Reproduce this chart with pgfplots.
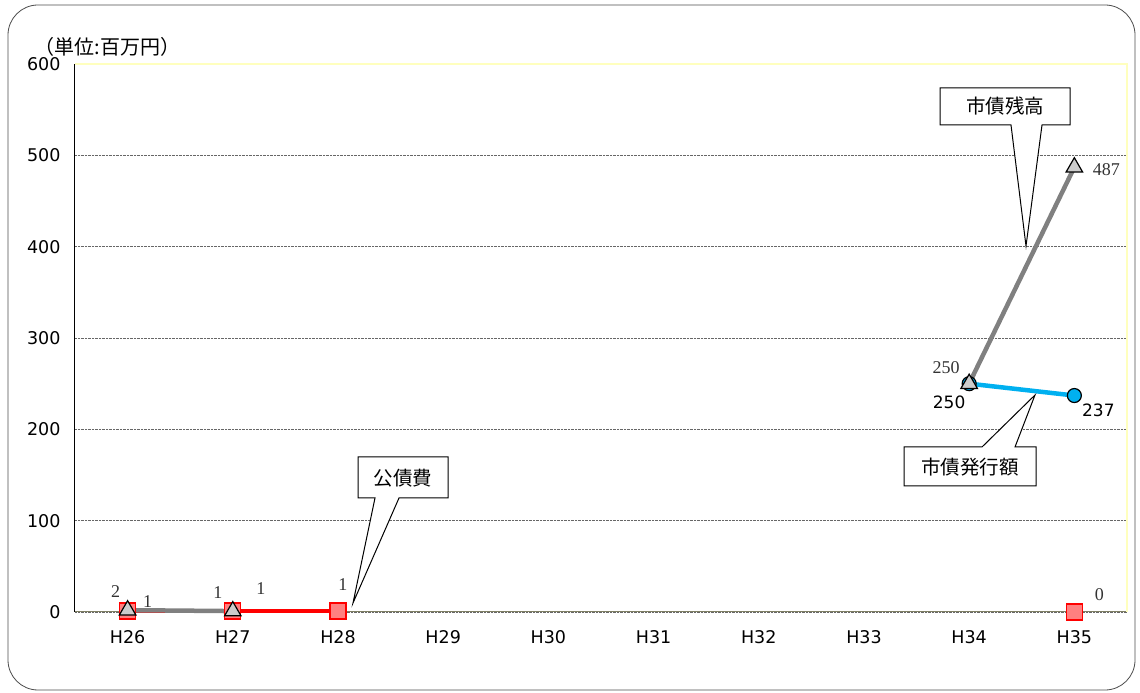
\documentclass[border=0pt]{standalone}
\usepackage{fontspec}
\setmainfont{Liberation Serif}
\newfontfamily\tickfont{DejaVu Sans}
\newfontfamily\jp{Noto Sans CJK JP}
\usepackage{pgfplots}
\pgfplotsset{compat=1.18}
\usepackage{pgfplotstable}

\definecolor{zgray}{RGB}{128,128,128}
\definecolor{kred}{RGB}{255,0,0}
\definecolor{kredfill}{RGB}{255,128,128}
\definecolor{hblue}{RGB}{0,176,240}
\definecolor{axolive}{RGB}{128,128,100}
\definecolor{edgeyellow}{RGB}{255,255,190}

% 公債費
\pgfplotstableread{
x y lab dx dy
0 1 1 20 10
1 1 1 28 23
2 1 1 5 27
3 nan x 0 0
9 0 0 25 17
}\kousaihi

% 市債残高
\pgfplotstableread{
x y lab dx dy
0 2 2 -12 19
1 1 1 -15 19
2 nan x 0 0
8 250 250 -23 16
9 487 487 32 -2
}\zandaka

% 市債発行額
\pgfplotstableread{
x y lab dx dy
8 250 250 -20 -19
9 237 237 24 -15
}\hakkou

\pgfplotsset{
  lbl/.style={
    nodes near coords,
    point meta=explicit symbolic,
    visualization depends on={\thisrow{dx}\as\dx},
    visualization depends on={\thisrow{dy}\as\dy},
    every node near coord/.append style={anchor=center, inner sep=0pt,
      xshift=\dx pt, yshift=\dy pt},
  },
}

\begin{document}
\begin{tikzpicture}[x=1pt, y=1pt]
\useasboundingbox (-75,-81) rectangle (1065,612);
\draw[rounded corners=30pt, line width=0.8pt, black!70] (-67,-78) rectangle (1060,607);
\begin{axis}[
  at={(0,0)}, anchor=south west, scale only axis,
  width=1052pt, height=548pt,
  xmin=-0.5, xmax=9.5, ymin=0, ymax=600,
  axis lines*=left,
  x axis line style={axolive, line width=1pt},
  y axis line style={black, line width=1pt},
  xtick={0,...,9},
  xticklabels={H26,H27,H28,H29,H30,H31,H32,H33,H34,H35},
  minor xtick={0.5,1.5,...,8.5},
  xtick style={draw=none},
  minor x tick style={axolive, line width=0.8pt},
  minor tick length=8pt,
  tick align=inside,
  ytick={0,100,...,600},
  ytick style={draw=none},
  ymajorgrids,
  major grid style={densely dotted, black!60, line width=0.8pt},
  tick label style={font=\tickfont\fontsize{17.5}{20}\selectfont},
  xticklabel style={anchor=center, yshift=-25pt},
  yticklabel style={anchor=east, xshift=-11pt},
  /pgf/number format/assume math mode=true,
  unbounded coords=jump,
  clip=false,
]
\draw[edgeyellow, line width=1.2pt] (rel axis cs:0,1) -- (rel axis cs:1,1) -- (rel axis cs:1,0);

\addplot[kred, line width=4.5pt, mark=square*, mark size=8pt,
  mark options={solid, fill=kredfill, draw=kred, line width=1.2pt},
  lbl, every node near coord/.append style={font=\fontsize{18}{20}\selectfont, text=black!80}]
  table[x=x, y=y, meta=lab] {\kousaihi};

\addplot[hblue, line width=4.5pt, mark=*, mark size=7pt,
  mark options={solid, fill=hblue, draw=black, line width=1.2pt},
  lbl, every node near coord/.append style={font=\tickfont\fontsize{17}{19}\selectfont, text=black}]
  table[x=x, y=y, meta=lab] {\hakkou};

\addplot[zgray, line width=4.5pt, mark=triangle*, mark size=9.5pt,
  mark options={solid, fill=black!20, draw=black, line width=1.2pt},
  lbl, every node near coord/.append style={font=\fontsize{18}{20}\selectfont, text=black!80}]
  table[x=x, y=y, meta=lab] {\zandaka};
\end{axis}

% unit
\node[font=\jp\fontsize{20}{23}\selectfont, anchor=west] at (-44,565) {（単位:百万円）};

% callouts
\draw[fill=white, line width=1pt] (865,524) -- (995,524) -- (995,487) -- (967,487)
  -- (951,366) -- (936,487) -- (865,487) -- cycle;
\node[font=\jp\fontsize{19.5}{22}\selectfont] at (930,506) {市債残高};

\draw[fill=white, line width=1pt] (829,165) -- (907,165) -- (960,217) -- (940,165)
  -- (961,165) -- (961,126) -- (829,126) -- cycle;
\node[font=\jp\fontsize{19.5}{22}\selectfont] at (895,145) {市債発行額};

\draw[fill=white, line width=1pt] (283,155) -- (373,155) -- (373,114) -- (324,114)
  -- (278,9) -- (300,114) -- (283,114) -- cycle;
\node[font=\jp\fontsize{19.5}{22}\selectfont] at (328,134) {公債費};
\end{tikzpicture}
\end{document}
